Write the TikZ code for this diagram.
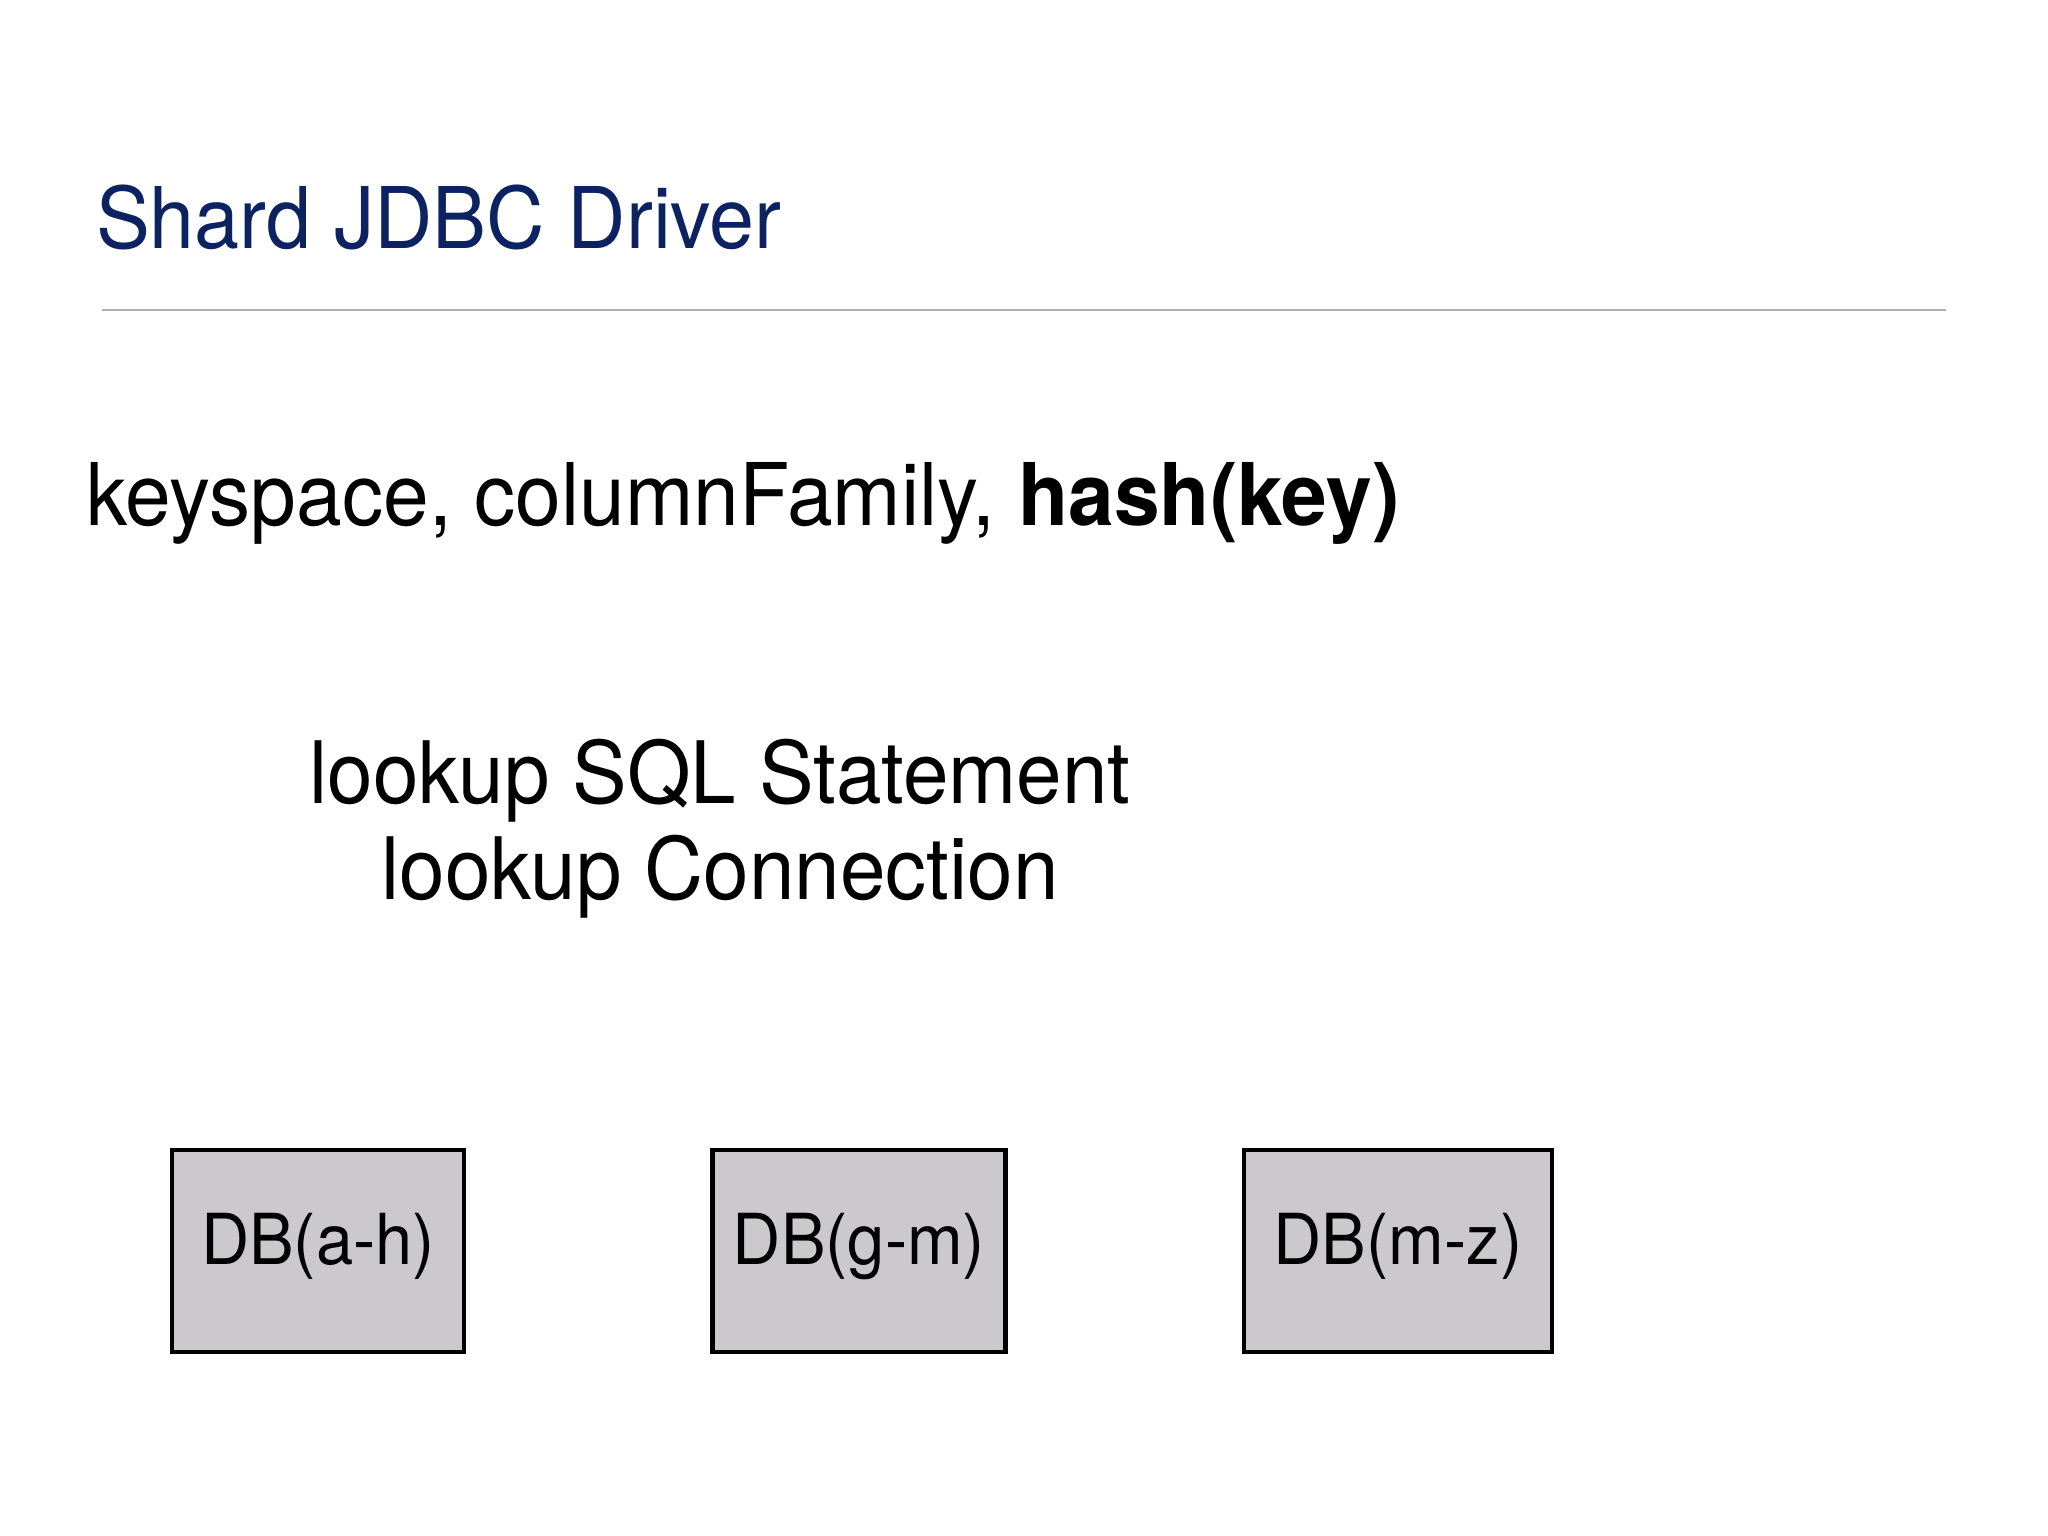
\documentclass[tikz,border=0pt]{standalone}
\usepackage{fontspec}
\setmainfont{TeX Gyre Heros}[FakeStretch=0.95]
\definecolor{titleblue}{HTML}{0D2260}
\definecolor{dbgray}{HTML}{CBC9CC}
\definecolor{rulegray}{HTML}{B0B0B0}
\begin{document}
\begin{tikzpicture}[x=0.01cm, y=-0.01cm,
    every node/.style={inner sep=0pt, outer sep=0pt},
    dbbox/.style={draw=black, line width=1.2pt, fill=dbgray, minimum height=57.5pt,
      text height=0.95em, text depth=0.2em, font=\fontsize{20}{24}\selectfont}]

    \useasboundingbox (0, 0) rectangle (2048, 1536);

    % --- 1. タイトルと区切り線 ---
    \node[anchor=base west, text=titleblue, font=\fontsize{24.2}{29}\selectfont] (title) at (96, 248) {Shard JDBC Driver};
    \draw[rulegray, line width=0.6pt] (102, 310) -- (1946, 310);

    % --- 2. キーの行 ---
    \node[anchor=base west, font=\fontsize{24.6}{29}\selectfont] (keyline) at (86, 525)
      {keyspace, columnFamily, \textbf{hash(key)}};

    % --- 3. lookup の2行 ---
    \node[anchor=base, font=\fontsize{24.5}{27.3}\selectfont, align=center] (lookup) at (720, 899)
      {lookup SQL Statement\\lookup Connection};

    % --- 4. DB ボックス ---
    \node[dbbox, minimum width=83pt] (dbah) at (318, 1251) {DB(a-h)};
    \node[dbbox, minimum width=83.3pt] (dbgm) at (859, 1251) {DB(g-m)};
    \node[dbbox, minimum width=87.5pt] (dbmz) at (1398, 1251) {DB(m-z)};

\end{tikzpicture}
\end{document}
